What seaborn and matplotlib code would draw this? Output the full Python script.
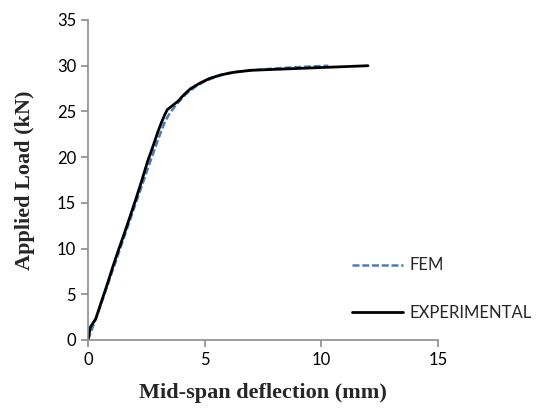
import matplotlib
matplotlib.use("Agg")
import matplotlib.pyplot as plt
import seaborn as sns
import pandas as pd

exp_x = [0, 0.1, 0.33, 0.55, 0.8, 1.05, 1.3, 1.55, 1.8, 2.05, 2.3, 2.55, 2.8, 3.0,
         3.15, 3.3, 3.4, 3.6, 3.85, 4.1, 4.4, 4.8, 5.2, 5.7, 6.3, 7.0, 8.0, 9.0, 10.0,
         11.0, 12.0]
exp_y = [0, 1.4, 2.3, 4.0, 5.9, 7.9, 9.8, 11.6, 13.5, 15.4, 17.4, 19.5, 21.3, 22.8,
         23.8, 24.7, 25.2, 25.6, 26.1, 26.8, 27.5, 28.1, 28.6, 29.0, 29.3, 29.5, 29.6,
         29.7, 29.8, 29.9, 30.0]
fem_x = [0, 0.5, 1.0, 1.5, 2.0, 2.5, 3.0, 3.3, 3.5, 3.8, 4.2, 4.6, 5.0, 5.5, 6.0, 7.0,
         8.0, 9.0, 10.3]
fem_y = [0, 3.5, 7.2, 10.9, 14.6, 18.3, 21.9, 23.9, 24.8, 25.8, 26.9, 27.7, 28.3, 28.8,
         29.2, 29.5, 29.7, 29.85, 30.0]

sns.set_style("white")
plt.rcParams['font.family'] = ['Lato', 'DejaVu Sans']

fig = plt.figure(figsize=(5.37, 4.08), dpi=100)
ax = fig.add_axes([88/537, 1-340/408, 350/537, 320/408])

fem = pd.DataFrame({"x": fem_x, "y": fem_y})
exp = pd.DataFrame({"x": exp_x, "y": exp_y})
sns.lineplot(data=fem, x="x", y="y", sort=False, ax=ax, color="#4a7ebb",
             linestyle=(0, (2.8, 1.1)), linewidth=1.8, label="FEM")
sns.lineplot(data=exp, x="x", y="y", sort=False, ax=ax, color="black",
             linewidth=2, label="EXPERIMENTAL")

ax.set_xlim(0, 15)
ax.set_ylim(0, 35)
ax.set_xticks([0, 5, 10, 15])
ax.set_yticks(range(0, 36, 5))
for s in ["top", "right"]:
    ax.spines[s].set_visible(False)
for s in ["left", "bottom"]:
    ax.spines[s].set_color("#8c8c8c")
    ax.spines[s].set_linewidth(1.2)
ax.tick_params(axis="both", which="major", direction="out", length=5, width=1.2,
               color="#8c8c8c", labelsize=12, labelcolor="black", left=True, bottom=True)
ax.set_xlabel("Mid-span deflection (mm)", family="Liberation Serif", fontweight="bold",
              fontsize=16, labelpad=11)
ax.set_ylabel("Applied Load (kN)", family="Liberation Serif", fontweight="bold",
              fontsize=16, labelpad=16)

leg = ax.legend(loc="upper left", bbox_to_anchor=(0.754, 0.258), frameon=False,
                fontsize=12, handlelength=3.05, labelspacing=1.9, handletextpad=0.4,
                borderaxespad=0, borderpad=0)
fig.savefig("out.png", dpi=100)
